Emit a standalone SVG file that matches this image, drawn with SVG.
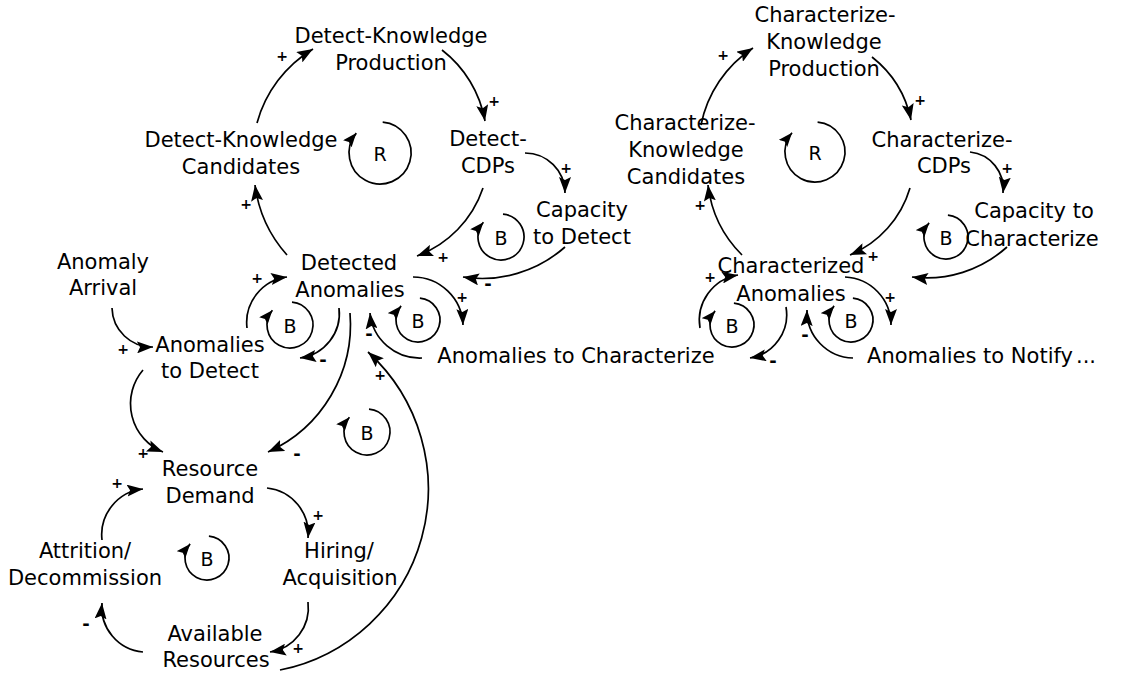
<svg xmlns="http://www.w3.org/2000/svg" width="1145" height="675" viewBox="0 0 1145 675">
<style>
.n text{font-family:"DejaVu Sans","Liberation Sans",sans-serif;font-size:21px;fill:#000;text-anchor:middle}
.c path{fill:none;stroke:#000;stroke-width:1.7;marker-end:url(#arr)}
.l path{fill:none;stroke:#000;stroke-width:1.7;marker-end:url(#arrs)}
.l text{font-family:"DejaVu Sans","Liberation Sans",sans-serif;font-size:19px;fill:#000;text-anchor:middle;dominant-baseline:central}
.s text{font-family:"DejaVu Sans","Liberation Sans",sans-serif;font-weight:bold;font-size:14px;fill:#000;text-anchor:middle;dominant-baseline:central}
.s text.m{font-size:18px}
</style>
<defs>
<marker id="arr" viewBox="0 0 16 12" refX="16" refY="6" markerWidth="16" markerHeight="12" orient="auto" markerUnits="userSpaceOnUse"><path d="M0,0 L16,6 L0,12 L3,6 z" fill="#000"/></marker>
<marker id="arrs" viewBox="0 0 14 11" refX="14" refY="5.5" markerWidth="14" markerHeight="11" orient="auto" markerUnits="userSpaceOnUse"><path d="M0,0 L14,5.5 L0,11 L2.5,5.5 z" fill="#000"/></marker>
</defs>
<rect width="1145" height="675" fill="#fff"/>

<g id="connectors" class="c">
<path d="M257,123 A125,125 0 0 1 313,49"/>
<path d="M442,50 A115,115 0 0 1 485,121"/>
<path d="M483,188 A110,110 0 0 1 417,256"/>
<path d="M287,255 A130,130 0 0 1 255,185"/>
<path d="M701,125 A120,120 0 0 1 753,48"/>
<path d="M872,57 A108,108 0 0 1 911,120"/>
<path d="M910,188 A105,105 0 0 1 850,255"/>
<path d="M742,255 A118,118 0 0 1 708,185"/>
<path d="M525,153 A40,40 0 0 1 565,193"/>
<path d="M565,247 A125,125 0 0 1 463,277"/>
<path d="M413,277 A50,50 0 0 1 463,325"/>
<path d="M422,358 A50,50 0 0 1 370,313"/>
<path d="M339,308 A45,45 0 0 1 300,358"/>
<path d="M247,328 A46,46 0 0 1 287,277"/>
<path d="M112,308 A40,40 0 0 0 153,347"/>
<path d="M350,313 A140,140 0 0 1 268,452"/>
<path d="M143,370 A52,52 0 0 0 163,452"/>
<path d="M267,488 A46,46 0 0 1 308,538"/>
<path d="M308,602 A45,45 0 0 1 270,652"/>
<path d="M143,652 A45,45 0 0 1 102,603"/>
<path d="M102,540 A46,46 0 0 1 143,489"/>
<path d="M280,670 A185,185 0 0 0 368,352"/>
<path d="M970,152 A37,37 0 0 1 1003,193"/>
<path d="M1007,247 A120,120 0 0 1 912,277"/>
<path d="M845,277 A48,48 0 0 1 891,325"/>
<path d="M853,358 A47,47 0 0 1 807,310"/>
<path d="M786,307 A44,44 0 0 1 750,358"/>
<path d="M700,328 A46,46 0 0 1 738,275"/>
</g>

<g id="polarities" class="s">
<text x="282" y="56">+</text>
<text x="494" y="101">+</text>
<text x="566" y="168">+</text>
<text x="443" y="257">+</text>
<text class="m" x="488" y="283">-</text>
<text x="462" y="297">+</text>
<text x="246" y="204">+</text>
<text x="257" y="278">+</text>
<text x="123" y="349">+</text>
<text class="m" x="323" y="359">-</text>
<text class="m" x="369" y="333">-</text>
<text x="380" y="375">+</text>
<text class="m" x="297" y="453">-</text>
<text x="143" y="453">+</text>
<text x="318" y="515">+</text>
<text x="298" y="648">+</text>
<text class="m" x="86" y="623">-</text>
<text x="117" y="483">+</text>
<text x="723" y="55">+</text>
<text x="920" y="100">+</text>
<text x="1007" y="168">+</text>
<text x="873" y="256">+</text>
<text x="700" y="205">+</text>
<text x="710" y="277">+</text>
<text x="890" y="297">+</text>
<text class="m" x="773" y="360">-</text>
<text class="m" x="805" y="334">-</text>
</g>

<g id="loops" class="l">
<g id="loop-R1"><path d="M382.7,122.1 A31,31 0 1 1 356.3,133.1"/><text x="380" y="154">R</text></g>
<g id="loop-R2"><path d="M817.6,122.1 A30,30 0 1 1 792,132.7"/><text x="815" y="153">R</text></g>
<g id="loop-B1"><path d="M503,214.1 A23,23 0 1 1 483.4,222.2"/><text x="501" y="238">B</text></g>
<g id="loop-B2"><path d="M292,302.1 A23,23 0 1 1 272.4,310.2"/><text x="290" y="326">B</text></g>
<g id="loop-B3"><path d="M419.9,298.1 A22,22 0 1 1 401.1,305.9"/><text x="418" y="321">B</text></g>
<g id="loop-B4"><path d="M369,409.1 A23,23 0 1 1 349.4,417.2"/><text x="367" y="433">B</text></g>
<g id="loop-B5"><path d="M208.9,536.1 A22,22 0 1 1 190.1,543.9"/><text x="207" y="559">B</text></g>
<g id="loop-B6"><path d="M947.9,215.1 A22,22 0 1 1 929.1,222.9"/><text x="946" y="238">B</text></g>
<g id="loop-B7"><path d="M733.9,303.1 A22,22 0 1 1 715.1,310.9"/><text x="732" y="326">B</text></g>
<g id="loop-B8"><path d="M852.9,298.1 A22,22 0 1 1 834.1,305.9"/><text x="851" y="321">B</text></g>
</g>

<g class="n">
<g id="dk-production"><text x="391" y="43">Detect-Knowledge</text><text x="391" y="70">Production</text></g>
<g id="dk-candidates"><text x="241" y="147">Detect-Knowledge</text><text x="241" y="174">Candidates</text></g>
<g id="detect-cdps"><text x="488" y="146">Detect-</text><text x="488" y="173">CDPs</text></g>
<g id="capacity-detect"><text x="582" y="217">Capacity</text><text x="582" y="244">to Detect</text></g>
<g id="detected-anomalies"><text x="349" y="270">Detected</text><text x="350" y="297">Anomalies</text></g>
<g id="anomaly-arrival"><text x="103" y="269">Anomaly</text><text x="103" y="295">Arrival</text></g>
<g id="anomalies-to-detect"><text x="210" y="352">Anomalies</text><text x="210" y="378">to Detect</text></g>
<g id="anomalies-to-characterize"><text x="576" y="363">Anomalies to Characterize</text></g>
<g id="resource-demand"><text x="210" y="476">Resource</text><text x="210" y="503">Demand</text></g>
<g id="hiring"><text x="339" y="558">Hiring/</text><text x="340" y="585">Acquisition</text></g>
<g id="attrition"><text x="85" y="558">Attrition/</text><text x="85" y="585">Decommission</text></g>
<g id="available-resources"><text x="215" y="641">Available</text><text x="216" y="667">Resources</text></g>
<g id="ck-production"><text x="825" y="22">Characterize-</text><text x="824" y="49">Knowledge</text><text x="824" y="76">Production</text></g>
<g id="ck-candidates"><text x="685" y="130">Characterize-</text><text x="686" y="157">Knowledge</text><text x="686" y="184">Candidates</text></g>
<g id="characterize-cdps"><text x="942" y="147">Characterize-</text><text x="944" y="173">CDPs</text></g>
<g id="capacity-characterize"><text x="1034" y="218">Capacity to</text><text x="1032" y="246">Characterize</text></g>
<g id="characterized-anomalies"><text x="791" y="273">Characterized</text><text x="791" y="301">Anomalies</text></g>
<g id="anomalies-to-notify"><text x="970" y="363">Anomalies to Notify</text><text x="1086" y="363">...</text></g>
</g>
</svg>
